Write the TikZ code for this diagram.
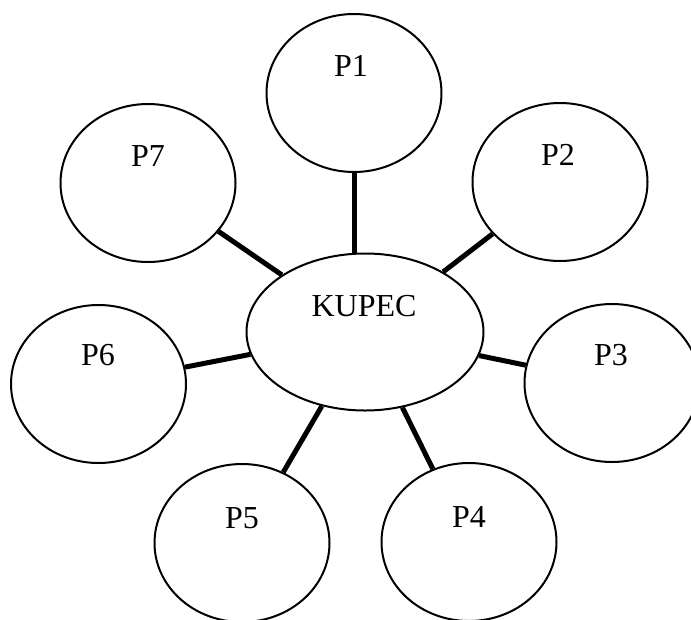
\documentclass[tikz,border=0pt]{standalone}
\usepackage{fontspec}
\setmainfont{Liberation Serif}
\usetikzlibrary{shapes.geometric}
\begin{document}
\begin{tikzpicture}[x=1pt,y=-1pt,
  pbub/.style={draw,ellipse,line width=2pt,minimum width=175pt,minimum height=158pt,inner sep=0pt},
  kbub/.style={draw,ellipse,line width=2pt,minimum width=237pt,minimum height=157pt,inner sep=0pt},
  lbl/.style={anchor=base,inner sep=0pt,font=\fontsize{32}{38}\selectfont},
  link/.style={line width=5pt}]
\useasboundingbox (0,0) rectangle (691,619);
\clip (0,0) rectangle (691,619);
\node[kbub] (K) at (365,332) {};
\node[pbub] (P1) at (354,93) {};
\node[pbub] (P2) at (560,182) {};
\node[pbub] (P3) at (612,383) {};
\node[pbub] (P4) at (469,542) {};
\node[pbub] (P5) at (242,543) {};
\node[pbub] (P6) at (98.5,384) {};
\node[pbub] (P7) at (148,183) {};
\node[lbl] (tK) at (364,316) {KUPEC};
\node[lbl] (t1) at (351,76) {P1};
\node[lbl] (t2) at (558,165) {P2};
\node[lbl] (t3) at (611,365) {P3};
\node[lbl] (t4) at (469,527) {P4};
\node[lbl] (t5) at (242,528) {P5};
\node[lbl] (t6) at (98,365) {P6};
\node[lbl] (t7) at (148,166) {P7};
\draw[link] (P1.south) -- (P1.south |- K.north);
\draw[link] (K) -- (P2);
\draw[link] (K) -- (P3);
\draw[link] (K) -- (P4);
\draw[link] (K) -- (P5);
\draw[link] (K) -- (P6);
\draw[link] (K) -- (P7);
\end{tikzpicture}
\end{document}
